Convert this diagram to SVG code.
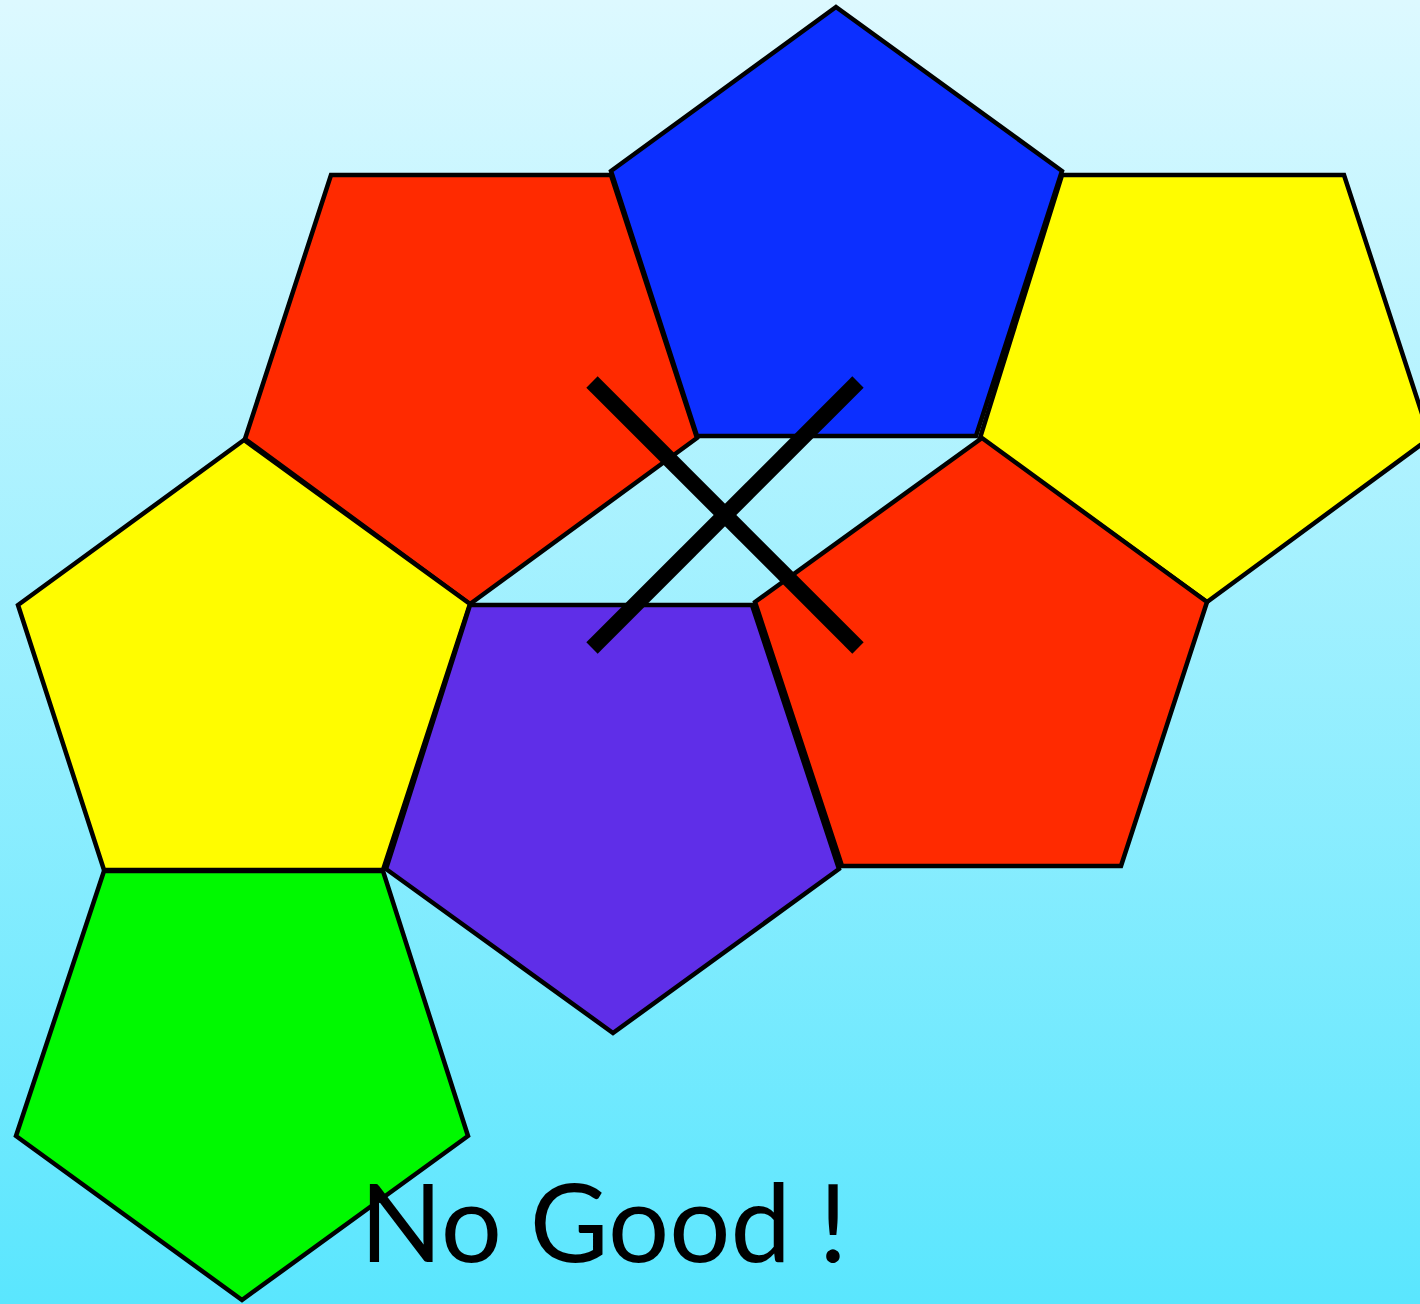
<svg xmlns="http://www.w3.org/2000/svg" width="1420" height="1304" viewBox="0 0 1420 1304">
<defs>
<linearGradient id="bg" x1="0" y1="0" x2="0" y2="1">
<stop offset="0" stop-color="#ddf9ff"/>
<stop offset="1" stop-color="#5ae6fe"/>
</linearGradient>
</defs>
<style>
.p{stroke:#000;stroke-width:4.5;stroke-linejoin:miter}
.red{fill:#ff2a00}.blue{fill:#0c2fff}.yellow{fill:#fffc00}.purple{fill:#5f2ee8}.green{fill:#00f900}
.x{stroke:#000;stroke-width:16;fill:none}
.t{font-family:Lato,"Open Sans","Liberation Sans",sans-serif;font-size:108px;fill:#000}
</style>
<rect width="1420" height="1304" fill="url(#bg)"/>
<g id="red-left"><polygon class="p red" points="331,175 611,175 697,438 470,604 245,439"/></g>
<g id="yellow-right"><polygon class="p yellow" points="1062,175 1344,175 1430,438 1207,602 980,438"/></g>
<g id="blue"><polygon class="p blue" points="836,7 1062,171 976,436 697,436 611,171"/></g>
<g id="red-right"><polygon class="p red" points="982,438 1207,602 1121,866 842,866 755,602"/></g>
<g id="yellow-left"><polygon class="p yellow" points="244,440 470,604 383,870 104,870 18,605"/></g>
<g id="purple"><polygon class="p purple" points="470,605 752,605 839,869 613,1033 386,869"/></g>
<g id="green"><polygon class="p green" points="104,871 383,871 468,1136 242,1300 16,1136"/></g>
<g id="cross">
<line class="x" x1="592" y1="382" x2="858" y2="648"/>
<line class="x" x1="858" y1="382" x2="592" y2="648"/>
</g>
<g id="label"><text class="t" x="360" y="1262">No Good !</text></g>
</svg>
